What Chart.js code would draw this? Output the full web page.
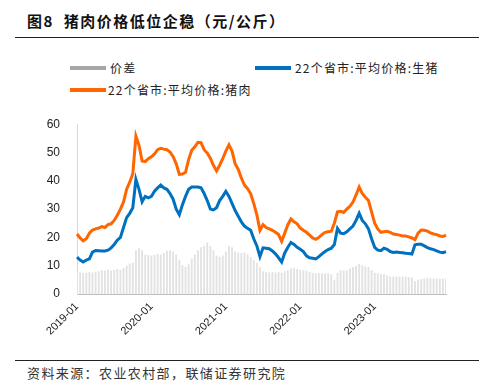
<!DOCTYPE html>
<html>
<head>
<meta charset="utf-8">
<script src="https://cdn.jsdelivr.net/npm/chart.js@4.4.0/dist/chart.umd.min.js"></script>
<style>
  body { margin: 0; background: #fff; font-family: "Noto Sans CJK SC", sans-serif; }
  #wrap { position: relative; width: 489px; height: 386px; overflow: hidden; }
  .title { position: absolute; left: 27px; top: 10px; font-size: 15px; font-weight: bold; color: #111; white-space: pre; letter-spacing: 1.5px; }
  .rule { position: absolute; left: 15px; width: 464px; height: 0; border-top: 1.5px solid #222; }
  .lg { position: absolute; font-size: 12px; color: #222; white-space: nowrap; line-height: 14px; letter-spacing: 1.2px; }
  .sw { position: absolute; height: 4px; width: 36px; }
  .src { position: absolute; left: 27px; top: 363px; font-size: 13px; color: #333; letter-spacing: 1.4px; }
  #box { position: absolute; left: 0; top: 100px; width: 489px; height: 260px; }
</style>
</head>
<body>
<div id="wrap">
  <div class="title">图8  猪肉价格低位企稳（元/公斤）</div>
  <div class="rule" style="top:37px"></div>

  <div class="sw" style="left:70px; top:66px; background:#a6a6a6"></div>
  <div class="lg" style="left:110px; top:61px">价差</div>
  <div class="sw" style="left:255px; top:66px; background:#0070c0"></div>
  <div class="lg" style="left:295px; top:61px">22个省市:平均价格:生猪</div>
  <div class="sw" style="left:70px; top:88px; background:#ff6600"></div>
  <div class="lg" style="left:108px; top:83px">22个省市:平均价格:猪肉</div>

  <div id="box"><canvas id="chart"></canvas></div>

  <div class="rule" style="top:360px"></div>
  <div class="src">资料来源：农业农村部，联储证券研究院</div>
</div>

<script>
// half-month points, 2019-01 .. 2023-12
const years = ["2019", "2020", "2021", "2022", "2023"];

// 22个省市:平均价格:猪肉
const porkPrice = [
  21.2, 19.8, 18.8, 19.5, 21.5, 22.6, 23.0, 23.3, 23.8, 23.5, 24.5, 24.8,
  26.0, 27.8, 30.0, 32.5, 37.0, 39.5, 42.5, 55.8, 52.5, 47.0, 46.8, 47.8,
  48.5, 49.5, 51.0, 51.5, 51.2, 51.0, 50.2, 48.5, 46.0, 42.3, 42.4, 43.0,
  47.5, 50.8, 52.0, 53.6, 53.5, 51.0, 49.8, 48.0, 45.5, 43.5, 45.5, 47.8,
  50.5, 52.7, 50.5, 46.0, 44.0, 41.0, 38.5, 37.2, 35.5, 32.0, 28.0, 22.5,
  24.5, 23.5, 23.0, 22.5, 21.8, 21.0, 18.6, 21.5, 24.5, 26.5, 25.5, 24.8,
  23.3, 22.5, 21.8, 20.8, 19.8, 19.3, 20.0, 21.0, 21.8, 22.0, 22.2, 25.0,
  29.0, 29.2, 28.8, 30.0, 31.0, 32.5, 35.0, 37.8, 35.5, 34.2, 33.0, 29.0,
  25.0, 23.0, 21.8, 22.0, 22.2, 21.8, 21.2, 21.0, 20.8, 20.5, 20.5, 20.2,
  19.8, 19.2, 21.5, 22.6, 22.5, 22.2, 21.6, 21.2, 21.0, 20.5, 20.3, 20.8
];

// 22个省市:平均价格:生猪
const hogPrice = [
  13.0, 12.0, 11.3, 12.0, 12.4, 14.8, 15.4, 15.3, 15.2, 15.2, 15.5, 16.3,
  17.5, 19.0, 20.0, 23.5, 27.0, 28.5, 30.5, 40.5, 37.0, 32.6, 34.5, 34.0,
  34.5, 36.3, 37.5, 38.5, 37.5, 37.0, 35.5, 33.5, 30.0, 28.0, 31.5, 34.5,
  37.0, 37.8, 37.8, 37.8, 37.5, 35.5, 33.0, 30.0, 29.7, 30.5, 33.0, 34.5,
  36.3, 34.5, 32.0, 29.5, 27.5, 25.5, 24.0, 23.2, 22.5, 19.5, 17.0, 13.2,
  16.3, 16.2, 16.0, 15.2, 14.2, 12.8, 11.3, 14.5, 16.5, 18.2, 17.5, 16.5,
  15.8, 15.0, 13.5, 12.8, 12.6, 12.4, 13.2, 14.2, 15.0, 15.7, 16.2, 17.5,
  23.2, 21.5, 21.3, 22.0, 23.0, 24.0, 26.0, 28.5, 26.0, 24.8, 23.0, 19.5,
  16.5, 15.5, 15.3, 16.2, 15.8, 15.0, 14.7, 14.8, 14.7, 14.6, 14.4, 14.3,
  14.1, 17.4, 17.6, 17.6, 17.0, 16.4, 16.0, 15.7, 15.2, 14.8, 14.6, 15.0
];

// 价差
const spread = [
  7.8, 7.6, 7.4, 7.5, 7.8, 7.6, 7.8, 8.0, 8.4, 8.2, 8.6, 8.3,
  8.5, 8.8, 8.6, 9.2, 10.0, 10.8, 11.0, 15.5, 16.2, 15.5, 14.0, 13.8,
  13.6, 13.9, 14.2, 14.0, 14.5, 15.3, 15.5, 15.0, 14.0, 12.0, 10.2, 9.5,
  10.5, 12.5, 14.0, 15.5, 16.5, 17.0, 18.2, 17.0, 15.5, 13.5, 13.2, 13.6,
  15.0, 17.0, 16.5, 15.0, 14.7, 14.5, 14.7, 14.0, 13.0, 12.0, 11.0, 9.5,
  8.0, 7.8, 7.6, 7.8, 7.6, 7.8, 7.5, 8.0, 8.5, 9.0, 9.2, 8.8,
  8.5, 8.4, 8.2, 7.8, 7.4, 7.2, 7.4, 7.3, 7.2, 7.3, 7.0, 5.0,
  7.5, 8.4, 8.3, 8.4, 9.0, 9.5, 10.0, 10.7, 10.2, 9.8, 9.5, 8.5,
  7.5, 7.3, 7.1, 7.0, 6.5, 6.2, 6.1, 6.2, 6.2, 6.1, 6.1, 6.0,
  5.8, 4.5, 5.0, 5.3, 5.5, 5.7, 5.6, 5.5, 5.5, 5.3, 5.4, 5.6
];

const yTicks = [0, 10, 20, 30, 40, 50, 60];

// category labels: two per month
const labels = [];
years.forEach(y => {
  for (let m = 1; m <= 12; m++) {
    const mm = (m < 10 ? "0" : "") + m;
    labels.push(y + "-" + mm);
    labels.push(y + "-" + mm + "-16");
  }
});

const ctx = document.getElementById("chart").getContext("2d");
new Chart(ctx, {
  data: {
    labels: labels,
    datasets: [
      {
        type: "line",
        label: "22个省市:平均价格:猪肉",
        data: porkPrice,
        borderColor: "#ff6600",
        borderWidth: 3,
        pointRadius: 0,
        tension: 0,
        order: 1
      },
      {
        type: "line",
        label: "22个省市:平均价格:生猪",
        data: hogPrice,
        borderColor: "#0070c0",
        borderWidth: 3,
        pointRadius: 0,
        tension: 0,
        order: 2
      },
      {
        type: "bar",
        label: "价差",
        data: spread,
        backgroundColor: "#e2e2e2",
        barPercentage: 0.6,
        categoryPercentage: 1,
        order: 3
      }
    ]
  },
  options: {
    responsive: true,
    maintainAspectRatio: false,
    animation: false,
    layout: { padding: { top: 17, right: 43, left: 0, bottom: 0 } },
    plugins: {
      legend: { display: false },
      tooltip: { enabled: false }
    },
    scales: {
      x: {
        offset: false,
        grid: { display: false, drawTicks: false },
        border: { display: true, color: "#bfbfbf", width: 1 },
        ticks: {
          autoSkip: false,
          maxRotation: 45,
          minRotation: 45,
          padding: 6,
          color: "#222",
          font: { family: "Liberation Sans", size: 11 },
          callback: function (val, i) {
            const l = labels[i];
            return l.endsWith("-01") ? l : "";
          }
        },
        afterFit: function (s) { s.height = 66; }
      },
      y: {
        min: 0,
        max: 60,
        afterBuildTicks: function (s) { s.ticks = yTicks.map(v => ({ value: v })); },
        grid: { display: false, drawTicks: false },
        border: { display: true, color: "#d9d9d9", width: 1 },
        ticks: {
          padding: 17,
          color: "#222",
          font: { family: "Liberation Sans", size: 12 }
        },
        afterFit: function (s) { s.width = 77; }
      }
    }
  }
});
</script>
</body>
</html>
